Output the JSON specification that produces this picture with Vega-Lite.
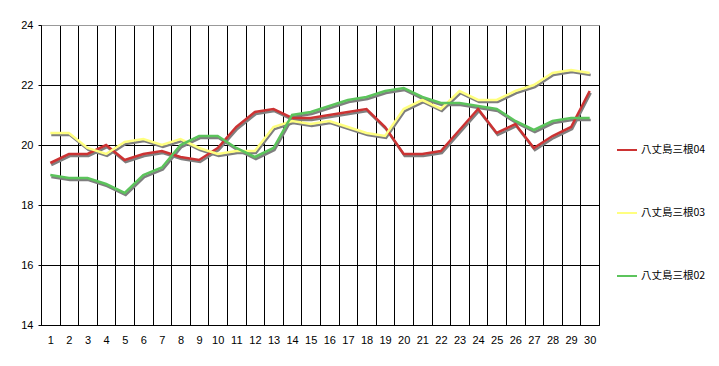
{
  "$schema": "https://vega.github.io/schema/vega-lite/v6.json",
  "width": 558,
  "height": 300,
  "autosize": {"type": "none"},
  "padding": {"left": 41, "top": 25, "right": 120, "bottom": 41},
  "background": "white",
  "config": {
    "view": {"stroke": "#999999", "strokeWidth": 1},
    "font": "Liberation Sans"
  },
  "datasets": {
    "wide": [
      {"day": 1, "s04": 19.4, "s03": 20.4, "s02": 19.0},
      {"day": 2, "s04": 19.7, "s03": 20.4, "s02": 18.9},
      {"day": 3, "s04": 19.7, "s03": 19.9, "s02": 18.9},
      {"day": 4, "s04": 20.0, "s03": 19.7, "s02": 18.7},
      {"day": 5, "s04": 19.5, "s03": 20.1, "s02": 18.4},
      {"day": 6, "s04": 19.7, "s03": 20.2, "s02": 19.0},
      {"day": 7, "s04": 19.8, "s03": 20.0, "s02": 19.25},
      {"day": 8, "s04": 19.6, "s03": 20.2, "s02": 20.0},
      {"day": 9, "s04": 19.5, "s03": 19.9, "s02": 20.3},
      {"day": 10, "s04": 19.9, "s03": 19.7, "s02": 20.3},
      {"day": 11, "s04": 20.6, "s03": 19.8, "s02": 19.9},
      {"day": 12, "s04": 21.1, "s03": 19.8, "s02": 19.6},
      {"day": 13, "s04": 21.2, "s03": 20.6, "s02": 19.9},
      {"day": 14, "s04": 20.9, "s03": 20.8, "s02": 21.0},
      {"day": 15, "s04": 20.9, "s03": 20.7, "s02": 21.1},
      {"day": 16, "s04": 21.0, "s03": 20.8, "s02": 21.3},
      {"day": 17, "s04": 21.1, "s03": 20.6, "s02": 21.5},
      {"day": 18, "s04": 21.2, "s03": 20.4, "s02": 21.6},
      {"day": 19, "s04": 20.6, "s03": 20.3, "s02": 21.8},
      {"day": 20, "s04": 19.7, "s03": 21.2, "s02": 21.9},
      {"day": 21, "s04": 19.7, "s03": 21.5, "s02": 21.6},
      {"day": 22, "s04": 19.8, "s03": 21.2, "s02": 21.4},
      {"day": 23, "s04": 20.5, "s03": 21.8, "s02": 21.4},
      {"day": 24, "s04": 21.2, "s03": 21.5, "s02": 21.3},
      {"day": 25, "s04": 20.4, "s03": 21.5, "s02": 21.2},
      {"day": 26, "s04": 20.7, "s03": 21.8, "s02": 20.8},
      {"day": 27, "s04": 19.9, "s03": 22.0, "s02": 20.5},
      {"day": 28, "s04": 20.3, "s03": 22.4, "s02": 20.8},
      {"day": 29, "s04": 20.6, "s03": 22.5, "s02": 20.9},
      {"day": 30, "s04": 21.8, "s03": 22.4, "s02": 20.9}
    ]
  },
  "data": {"name": "wide"},
  "transform": [
    {"fold": ["s04", "s03", "s02"], "as": ["key", "value"]},
    {"lookup": "key", "from": {"data": {"values": [
      {"key": "s04", "series": "八丈島三根04"},
      {"key": "s03", "series": "八丈島三根03"},
      {"key": "s02", "series": "八丈島三根02"}
    ]}, "key": "key", "fields": ["series"]}}
  ],
  "encoding": {
    "x": {
      "field": "day",
      "type": "ordinal",
      "scale": {"paddingInner": 0, "paddingOuter": 0},
      "axis": {
        "title": null,
        "labelAngle": 0,
        "labelFont": "Liberation Sans",
        "labelFontSize": 11,
        "labelColor": "black",
        "labelPadding": 9,
        "ticks": false,
        "domainColor": "black",
        "grid": true,
        "gridColor": "black",
        "gridOpacity": 1,
        "tickBand": "extent"
      }
    },
    "y": {
      "field": "value",
      "type": "quantitative",
      "scale": {"domain": [14, 24], "nice": false, "zero": false},
      "axis": {
        "title": null,
        "values": [14, 16, 18, 20, 22, 24],
        "labelFont": "Liberation Sans",
        "labelFontSize": 11,
        "labelColor": "black",
        "labelPadding": 5,
        "tickSize": 3,
        "tickColor": "black",
        "domainColor": "black",
        "grid": true,
        "gridColor": {"condition": {"test": "datum.value == 24", "value": "#999999"}, "value": "black"},
        "gridOpacity": 1
      }
    }
  },
  "layer": [
    {
      "mark": {"type": "line", "strokeWidth": 2.5, "color": "#7f7f7f"},
      "encoding": {
        "detail": {"field": "series"},
        "xOffset": {"value": 10.3},
        "yOffset": {"value": 2}
      }
    },
    {
      "mark": {"type": "line", "strokeWidth": 2.5},
      "encoding": {
        "color": {
          "field": "series",
          "type": "nominal",
          "scale": {
            "domain": ["八丈島三根04", "八丈島三根03", "八丈島三根02"],
            "range": ["#CC3333", "#FFFF80", "#5CC45C"]
          },
          "legend": {
            "title": null,
            "orient": "none",
            "legendX": 575,
            "legendY": 114,
            "padding": 0,
            "symbolType": "stroke",
            "symbolSize": 400,
            "symbolStrokeWidth": 2,
            "symbolOpacity": 1,
            "labelFont": "Noto Sans CJK JP",
            "labelFontSize": 10.5,
            "labelColor": "black",
            "labelOffset": 3,
            "rowPadding": 46
          }
        }
      }
    }
  ]
}
